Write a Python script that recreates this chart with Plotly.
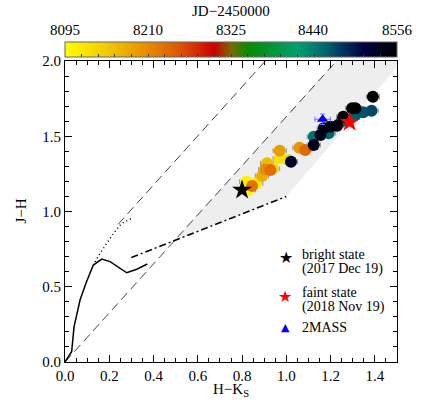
import plotly.graph_objects as go

JD_MIN = 8095
JD_MAX = 8556
JD_TICKS = [8095, 8210, 8325, 8440, 8556]

# photometry, sorted by date (JD-2450000)
hk = [0.830, 0.819, 0.864, 0.970, 1.010, 0.940, 0.913, 0.890, 0.970, 1.059, 0.905,
      0.845, 0.928, 1.086,
      1.124, 1.191, 1.250, 1.312, 1.347, 1.385,
      1.021, 1.124, 1.154, 1.169, 1.199, 1.229, 1.257, 1.297, 1.312, 1.391]
jh = [1.143, 1.198, 1.187, 1.353, 1.342, 1.285, 1.320, 1.236, 1.404, 1.424, 1.280,
      1.169, 1.276, 1.409,
      1.497, 1.520, 1.600, 1.641, 1.659, 1.670,
      1.331, 1.442, 1.508, 1.553, 1.563, 1.570, 1.630, 1.686, 1.686, 1.763]
jd = [8103, 8110, 8118, 8125, 8130, 8140, 8165, 8180, 8195, 8200, 8205,
      8230, 8235, 8240,
      8450, 8455, 8458, 8460, 8465, 8470,
      8530, 8535, 8540, 8542, 8545, 8547, 8550, 8552, 8554, 8556]
HK_ERR = 0.03

bright_hk, bright_jh = [0.800], [1.143]
faint_hk, faint_jh = [1.286], [1.593]
tmass_hk, tmass_jh = [1.164], [1.613]
tmass_hk_err, tmass_jh_err = [0.035], [0.035]

# intrinsic loci
dwarf_hk = [0.0, 0.030, 0.041, 0.068, 0.095, 0.113, 0.128, 0.166, 0.204, 0.279, 0.324, 0.372]
dwarf_jh = [0.0, 0.068, 0.235, 0.412, 0.525, 0.589, 0.644, 0.684, 0.667, 0.593, 0.616, 0.651]
giant_hk = [0.136, 0.158, 0.189, 0.219, 0.256, 0.302]
giant_jh = [0.666, 0.722, 0.789, 0.855, 0.921, 0.955]
ctts_hk = [0.30, 1.00]
ctts_jh = [0.694, 1.10]
red1_hk = [0.0, 1.227]
red1_jh = [0.0, 2.0]
red2_hk = [0.24, 0.905]
red2_jh = [0.915, 2.0]
shade_hk = [0.495, 1.0, 1.5, 1.5, 1.227, 0.495]
shade_jh = [0.807, 1.1, 1.96, 2.0, 2.0, 0.807]

colorscale = [
    [0.0, "#ffff00"], [0.12, "#f2cc00"], [0.24, "#e89000"], [0.34, "#dc5a00"],
    [0.45, "#cc0000"], [0.5, "#7a6a00"], [0.55, "#0a8c00"], [0.63, "#00963c"],
    [0.7, "#00a070"], [0.78, "#006a6e"], [0.84, "#003060"], [0.9, "#000040"],
    [1.0, "#000000"],
]

FONT = "Liberation Serif"

# colour bar ticks: 4 minor steps between labelled ones
cbar_ticks = [JD_MIN + i * (JD_MAX - JD_MIN) / 20 for i in range(21)]

fig = go.Figure()

fig.add_trace(go.Scatter(x=shade_hk, y=shade_jh, mode="lines", fill="toself",
                         fillcolor="#eeeeee", line=dict(width=0), hoverinfo="skip"))

fig.add_trace(go.Scatter(x=red1_hk, y=red1_jh, mode="lines",
                         line=dict(color="#444444", width=1, dash="9px,5px")))
fig.add_trace(go.Scatter(x=red2_hk, y=red2_jh, mode="lines",
                         line=dict(color="#444444", width=1, dash="9px,5px")))
fig.add_trace(go.Scatter(x=ctts_hk, y=ctts_jh, mode="lines",
                         line=dict(color="black", width=1.5, dash="7px,3px,2px,3px")))
fig.add_trace(go.Scatter(x=dwarf_hk, y=dwarf_jh, mode="lines",
                         line=dict(color="black", width=1.5)))
fig.add_trace(go.Scatter(x=giant_hk, y=giant_jh, mode="lines",
                         line=dict(color="black", width=1.5, dash="1px,3px")))

# the colour bar sits right on top of the plotting area
fig.add_trace(go.Scatter(
    x=hk, y=jh, mode="markers",
    error_x=dict(type="constant", value=HK_ERR, color="#999999", thickness=1, width=2.5),
    marker=dict(
        size=12, color=jd, colorscale=colorscale, cmin=JD_MIN, cmax=JD_MAX,
        line=dict(width=0), showscale=True,
        colorbar=dict(
            orientation="h", x=0.5, xanchor="center", len=1, lenmode="fraction",
            y=1.0, yanchor="bottom", thickness=15, xpad=0, ypad=0,
            outlinewidth=1, outlinecolor="#666666",
            tickmode="array", tickvals=cbar_ticks, ticks="inside", ticklen=3,
            tickcolor="#333333", showticklabels=False,
        ),
    ),
))

fig.add_trace(go.Scatter(
    x=tmass_hk, y=tmass_jh, mode="markers",
    error_x=dict(type="data", array=tmass_hk_err, color="#7070ff", thickness=1, width=2.5),
    error_y=dict(type="data", array=tmass_jh_err, color="#7070ff", thickness=1, width=2.5),
    marker=dict(symbol="triangle-up", size=10, color="#0000ff", line=dict(width=0)),
))
fig.add_trace(go.Scatter(x=bright_hk, y=bright_jh, mode="markers",
                         marker=dict(symbol="star", size=15, color="black", line=dict(width=0))))
fig.add_trace(go.Scatter(x=faint_hk, y=faint_jh, mode="markers",
                         marker=dict(symbol="star", size=15, color="#ff0000", line=dict(width=0))))

axis_common = dict(
    showgrid=False, zeroline=False, showline=True, linecolor="black", linewidth=1,
    mirror="ticks", ticks="inside", ticklen=7, tickcolor="black", automargin=False,
    tickfont=dict(family=FONT, size=15, color="black"),
)

fig.update_layout(
    width=436, height=409,
    margin=dict(l=65, r=39, t=61, b=47),
    plot_bgcolor="white", paper_bgcolor="white",
    showlegend=False,
    font=dict(family=FONT, size=15, color="black"),
    xaxis=dict(
        range=[0, 1.5], dtick=0.2, tick0=0, tickformat=".1f",
        minor=dict(dtick=0.05, ticks="inside", ticklen=4, tickcolor="black"),
        **axis_common,
    ),
    yaxis=dict(
        range=[0, 2.0], dtick=0.5, tick0=0, tickformat=".1f",
        minor=dict(dtick=0.1, ticks="inside", ticklen=4, tickcolor="black"),
        **axis_common,
    ),
)

# axis titles and colour bar labels
fig.add_annotation(x=0.5, y=0, xref="paper", yref="paper", yshift=-28, showarrow=False,
                   text="H\u2212K<sub>S</sub>", xanchor="center", yanchor="middle",
                   font=dict(family=FONT, size=15))
fig.add_annotation(x=0, y=0.5, xref="paper", yref="paper", xshift=-45, showarrow=False,
                   text="J\u2212H", textangle=-90, xanchor="center", yanchor="middle",
                   font=dict(family=FONT, size=15))
fig.add_annotation(x=0.5, y=1, xref="paper", yref="paper", yshift=50, showarrow=False,
                   text="JD\u22122450000", xanchor="center", yanchor="middle",
                   font=dict(family=FONT, size=15))
for t in JD_TICKS:
    fig.add_annotation(x=(t - JD_MIN) / (JD_MAX - JD_MIN), y=1, xref="paper", yref="paper",
                       yshift=31, showarrow=False, text=str(t), xanchor="center",
                       yanchor="middle", font=dict(family=FONT, size=15))

# legend written by hand
legend_font = dict(family=FONT, size=14, color="black")
notes = [
    (1.0, 0.696, "\u2605", dict(family="DejaVu Sans", size=16, color="black")),
    (1.06, 0.714, "bright state", legend_font),
    (1.06, 0.618, "(2017 Dec 19)", legend_font),
    (0.995, 0.435, "\u2605", dict(family="DejaVu Sans", size=16, color="#ff0000")),
    (1.06, 0.461, "faint state", legend_font),
    (1.06, 0.367, "(2018 Nov 19)", legend_font),
    (0.998, 0.232, "\u25b2", dict(family="DejaVu Sans", size=11, color="#0000ff")),
    (1.06, 0.232, "2MASS", legend_font),
]
for x, y, text, font in notes:
    fig.add_annotation(x=x, y=y, xref="x", yref="y", text=text, showarrow=False,
                       xanchor="left" if x > 1.05 else "center", yanchor="middle", font=font)

# drop the page's default body margin so the figure starts at the window corner
fig.write_html("out.html", config={"displayModeBar": False},
               post_script="document.body.style.margin='0px';")
